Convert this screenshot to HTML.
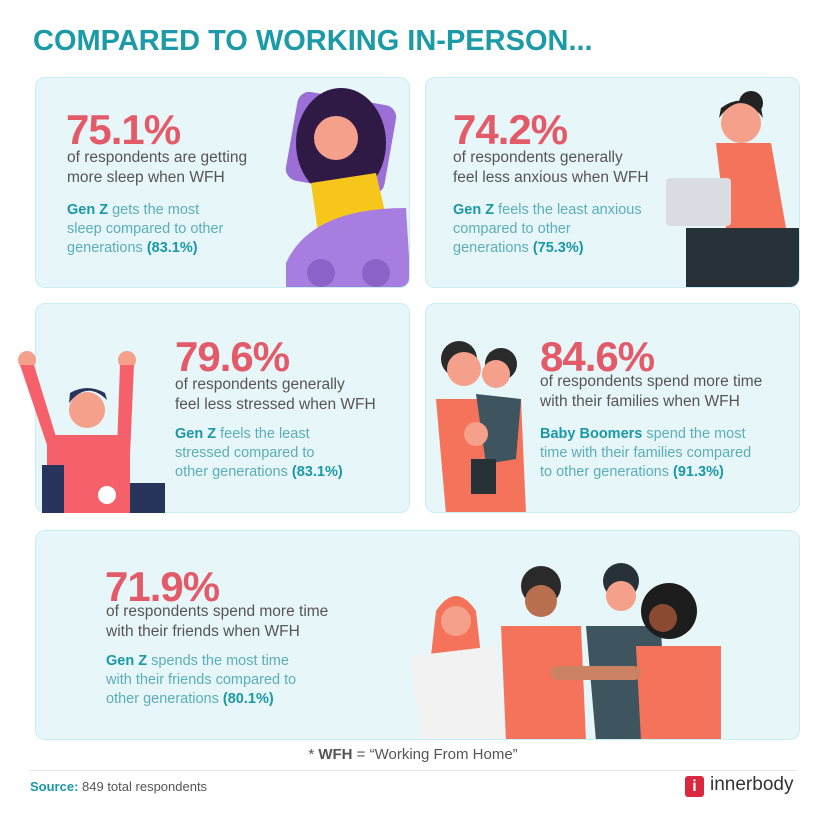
<!DOCTYPE html>
<html><head><style>
*{margin:0;padding:0;box-sizing:border-box}
body{width:826px;height:813px;background:#fff;font-family:"Liberation Sans",sans-serif;position:relative;overflow:hidden}
.a{position:absolute}
.card{position:absolute;background:#e7f6f9;border:1.5px solid #c6eef4;border-radius:10px;overflow:hidden}
.big{position:absolute;font-weight:bold;color:#e35b69;font-size:42px;letter-spacing:-1px;line-height:1}
.t{position:absolute;color:#555;font-size:15.5px;line-height:19.5px}
.s{position:absolute;color:#5aaeb9;font-size:14.5px;line-height:19px}
.s b{color:#1a98a6}
</style></head><body>
<div class="a" style="left:33px;top:25px;font-size:29px;font-weight:bold;color:#1b9aa8;letter-spacing:0">COMPARED TO WORKING IN-PERSON...</div>

<div class="card" style="left:35px;top:77px;width:375px;height:211px">
<svg class="a" style="left:245px;top:10px" width="130" height="200"><rect x="10" y="10" width="100" height="90" rx="12" fill="#9b6fd6" transform="rotate(10 60 55)"/><ellipse cx="60" cy="55" rx="45" ry="55" fill="#2e1a45"/><circle cx="55" cy="50" r="22" fill="#f4a08a"/><path d="M30 95 L95 85 L110 150 L40 165Z" fill="#f7c61b"/><path d="M5 175 Q30 120 125 120 L130 200 L5 200Z" fill="#a77ee0"/><circle cx="40" cy="185" r="14" fill="#8d62c8"/><circle cx="95" cy="185" r="14" fill="#8d62c8"/></svg>
</div>
<div class="big" style="left:66px;top:109px">75.1%</div>
<div class="t" style="left:67px;top:148px">of respondents are getting<br>more sleep when WFH</div>
<div class="s" style="left:67px;top:201px"><b>Gen Z</b> gets the most<br>sleep compared to other<br>generations <b>(83.1%)</b></div>

<div class="card" style="left:425px;top:77px;width:375px;height:211px">
<svg class="a" style="left:235px;top:-10px" width="140" height="221"><circle cx="90" cy="35" r="12" fill="#222"/><circle cx="80" cy="55" r="20" fill="#f4a08a"/><path d="M58 50 Q80 20 102 50 L100 40 Q80 25 60 40Z" fill="#222"/><path d="M55 75 L110 75 L125 160 L65 160Z" fill="#f5735a"/><rect x="5" y="110" width="65" height="48" rx="4" fill="#d9dde3"/><path d="M25 160 L140 160 L140 221 L25 221Z" fill="#263238"/></svg>
</div>
<div class="big" style="left:453px;top:109px">74.2%</div>
<div class="t" style="left:453px;top:148px">of respondents generally<br>feel less anxious when WFH</div>
<div class="s" style="left:453px;top:201px"><b>Gen Z</b> feels the least anxious<br>compared to other<br>generations <b>(75.3%)</b></div>

<div class="card" style="left:35px;top:303px;width:375px;height:210px"></div>
<svg class="a" style="left:12px;top:345px" width="160" height="168"><circle cx="15" cy="15" r="9" fill="#f4a08a"/><circle cx="115" cy="15" r="9" fill="#f4a08a"/><path d="M8 20 L22 20 L45 95 L35 100Z" fill="#f5606b"/><path d="M108 20 L122 20 L118 110 L105 105Z" fill="#f5606b"/><circle cx="75" cy="65" r="18" fill="#f4a08a"/><path d="M57 58 Q75 35 95 55 L93 48 Q75 38 58 48Z" fill="#27355c"/><path d="M35 90 L118 90 L118 168 L35 168Z" fill="#f5606b"/><rect x="30" y="120" width="22" height="48" fill="#27355c"/><rect x="118" y="138" width="35" height="30" fill="#27355c"/><circle cx="95" cy="150" r="9" fill="#fff"/></svg>
<div class="big" style="left:175px;top:336px">79.6%</div>
<div class="t" style="left:175px;top:375px">of respondents generally<br>feel less stressed when WFH</div>
<div class="s" style="left:175px;top:425px"><b>Gen Z</b> feels the least<br>stressed compared to<br>other generations <b>(83.1%)</b></div>

<div class="card" style="left:425px;top:303px;width:375px;height:210px">
<svg class="a" style="left:5px;top:15px" width="110" height="195"><circle cx="28" cy="40" r="18" fill="#2a2a2a"/><circle cx="33" cy="50" r="17" fill="#f4a08a"/><circle cx="70" cy="45" r="16" fill="#2a2a2a"/><circle cx="65" cy="55" r="14" fill="#f4a08a"/><path d="M5 80 L90 80 L95 195 L15 195Z" fill="#f5735a"/><path d="M45 75 L90 80 L85 140 L55 145Z" fill="#3e5560"/><rect x="40" y="140" width="25" height="35" fill="#263238"/><circle cx="45" cy="115" r="12" fill="#f4a08a"/></svg>
</div>
<div class="big" style="left:540px;top:336px">84.6%</div>
<div class="t" style="left:540px;top:372px">of respondents spend more time<br>with their families when WFH</div>
<div class="s" style="left:540px;top:425px"><b>Baby Boomers</b> spend the most<br>time with their families compared<br>to other generations <b>(91.3%)</b></div>

<div class="card" style="left:35px;top:530px;width:765px;height:210px">
<svg class="a" style="left:365px;top:25px" width="325" height="185"><path d="M35 55 Q55 25 75 55 L80 100 L30 100Z" fill="#f5735a"/><circle cx="55" cy="65" r="15" fill="#f4a08a"/><path d="M10 100 L95 90 L105 185 L20 185Z" fill="#f2f2f2"/><circle cx="140" cy="30" r="20" fill="#2a2a2a"/><circle cx="140" cy="45" r="16" fill="#b9704f"/><path d="M100 70 L180 70 L185 185 L105 185Z" fill="#f5735a"/><circle cx="220" cy="25" r="18" fill="#263238"/><circle cx="220" cy="40" r="15" fill="#f4a08a"/><path d="M185 70 L260 70 L265 185 L195 185Z" fill="#3e5560"/><circle cx="268" cy="55" r="28" fill="#1d1d1d"/><circle cx="262" cy="62" r="14" fill="#8a4a32"/><path d="M235 90 L320 90 L320 185 L240 185Z" fill="#f5735a"/><rect x="150" y="110" width="90" height="14" rx="7" fill="#c98262"/></svg>
</div>
<div class="big" style="left:105px;top:566px">71.9%</div>
<div class="t" style="left:106px;top:602px">of respondents spend more time<br>with their friends when WFH</div>
<div class="s" style="left:106px;top:652px"><b>Gen Z</b> spends the most time<br>with their friends compared to<br>other generations <b>(80.1%)</b></div>

<div class="a" style="left:0;width:826px;top:746px;text-align:center;font-size:15px;color:#555">* <b>WFH</b> = “Working From Home”</div>
<div class="a" style="left:30px;top:770px;width:767px;height:1px;background:#e6e6e6"></div>
<div class="a" style="left:30px;top:779px;font-size:13px;color:#555"><b style="color:#1a98a6">Source:</b> 849 total respondents</div>
<div class="a" style="left:685px;top:776px;width:19px;height:21px;background:#d9283f;border-radius:3px;color:#fff;font-weight:bold;font-size:16px;text-align:center;line-height:21px">i</div>
<div class="a" style="left:710px;top:774px;font-size:19px;color:#333">innerbody</div>
</body></html>
